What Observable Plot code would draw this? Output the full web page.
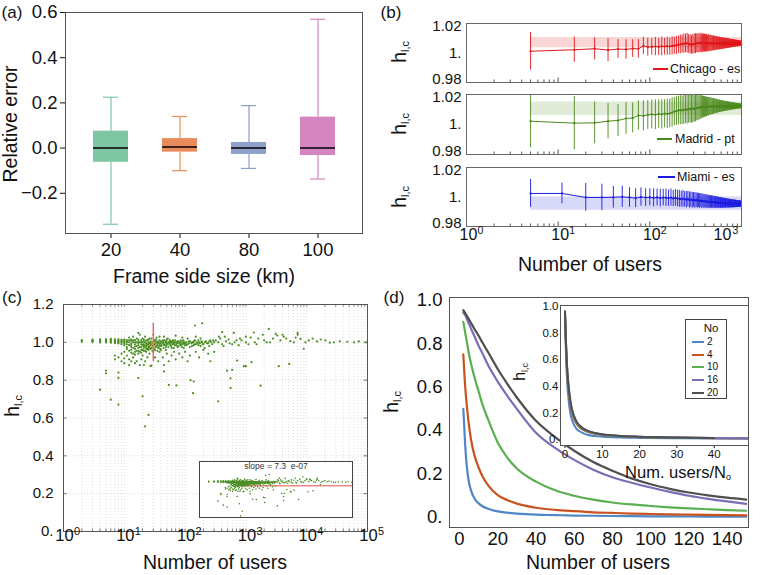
<!DOCTYPE html>
<html><head><meta charset="utf-8">
<script src="https://cdn.jsdelivr.net/npm/d3@7"></script>
<script src="https://cdn.jsdelivr.net/npm/@observablehq/plot@0.6"></script>
<style>
body{margin:0;background:#fff;}
#root{position:relative;width:760px;height:575px;background:#fff;font-family:"Liberation Sans",Arial,Helvetica,sans-serif;color:#111;overflow:hidden;}
.lbl{position:absolute;white-space:nowrap;line-height:1;}
.lbl sub{font-size:0.55em;vertical-align:-0.3em;line-height:0;}
</style></head><body><div id="root"></div><script>
// ---------- DATA ----------
// (a) box plots
const frameSizes = ["20","40","80","100"];
const whiskerLow = [-0.337,-0.100,-0.090,-0.137];
const q1 = [-0.063,-0.018,-0.028,-0.033];
const median = [0.000,0.005,0.000,0.000];
const q3 = [0.075,0.042,0.025,0.137];
const whiskerHigh = [0.225,0.140,0.188,0.570];
const boxColors = ["#7fc6a4","#e98b5c","#8e9fcc","#d586c0"];

// (b) h_lc vs number of users
const usersCM = [5,15,25,35,45,55,65,75,85,95,105,115,125,135,145,155,165,175,185,195,205,215,225,235,245,255,265,275,285,295,305,315,325,335,345,355,365,375,385,395,405,415,425,435,445,455,465,475,485,495,505,515,525,535,545,555,565,575,585,595,605,615,625,635,645,655,665,675,685,695,705,715,725,735,745,755,765,775,785,795,805,815,825,835,845,855,865,875,885,895,905,915,925,935,945,955,965,975,985,995];
const usersMiami = [5,11,20,30,40,50,60,70,80,90,100,110,120,130,140,150,160,170,180,190,200,210,220,230,240,250,260,270,280,290,300,310,320,330,340,350,360,370,380,390,400,410,420,430,440,450,460,470,480,490,500,510,520,530,540,550,560,570,580,590,600,610,620,630,640,650,660,670,680,690,700,710,720,730,740,750,760,770,780,790,800,810,820,830,840,850,860,870,880,890,900,910,920,930,940,950,960,970,980,990];
const chicagoMean = [1.0012,1.0022,1.0029,1.0020,1.0027,1.0024,1.0030,1.0028,1.0048,1.0040,
 1.0042,1.0044,1.0041,1.0045,1.0043,1.0046,1.0044,1.0048,1.0050,1.0052,
 1.0056,1.0058,1.0061,1.0063,1.0065,1.0066,1.0062,1.0058,1.0056,1.0060,
 1.0062,1.0064,1.0066,1.0067,1.0066,1.0068,1.0067,1.0066,1.0068,1.0067,
 1.0066,1.0067,1.0065,1.0066,1.0067,1.0065,1.0066,1.0064,1.0065,1.0066,
 1.0065,1.0064,1.0066,1.0065,1.0064,1.0065,1.0064,1.0065,1.0064,1.0063,
 1.0064,1.0065,1.0064,1.0063,1.0064,1.0065,1.0064,1.0063,1.0064,1.0064,
 1.0065,1.0064,1.0063,1.0064,1.0065,1.0064,1.0063,1.0064,1.0064,1.0065,
 1.0064,1.0063,1.0064,1.0065,1.0064,1.0063,1.0064,1.0064,1.0065,1.0064,
 1.0063,1.0064,1.0064,1.0065,1.0064,1.0064,1.0063,1.0064,1.0064,1.0064];
const chicagoErr = [0.0128,0.0086,0.0075,0.0078,0.0064,0.0066,0.0060,0.0062,0.0058,0.0061,
 0.0056,0.0062,0.0058,0.0064,0.0057,0.0061,0.0059,0.0063,0.0058,0.0062,
 0.0060,0.0064,0.0061,0.0066,0.0062,0.0067,0.0063,0.0066,0.0062,0.0068,
 0.0064,0.0068,0.0063,0.0067,0.0062,0.0066,0.0061,0.0064,0.0060,0.0062,
 0.0058,0.0060,0.0056,0.0058,0.0054,0.0056,0.0052,0.0053,0.0050,0.0051,
 0.0048,0.0049,0.0046,0.0047,0.0044,0.0045,0.0042,0.0043,0.0041,0.0041,
 0.0039,0.0040,0.0038,0.0038,0.0036,0.0036,0.0035,0.0035,0.0033,0.0033,
 0.0032,0.0032,0.0031,0.0030,0.0030,0.0029,0.0028,0.0028,0.0027,0.0027,
 0.0026,0.0026,0.0025,0.0024,0.0024,0.0023,0.0023,0.0022,0.0022,0.0021,
 0.0021,0.0020,0.0020,0.0019,0.0019,0.0018,0.0018,0.0017,0.0017,0.0016];
const madridMean = [1.0022,1.0009,1.0011,1.0022,1.0027,1.0040,1.0044,1.0060,1.0058,1.0064,
 1.0067,1.0065,1.0070,1.0068,1.0072,1.0071,1.0074,1.0080,1.0086,1.0090,
 1.0093,1.0096,1.0094,1.0098,1.0101,1.0099,1.0103,1.0104,1.0102,1.0106,
 1.0104,1.0108,1.0110,1.0112,1.0111,1.0114,1.0116,1.0115,1.0117,1.0116,
 1.0118,1.0117,1.0119,1.0118,1.0120,1.0119,1.0120,1.0121,1.0120,1.0121,
 1.0120,1.0121,1.0122,1.0121,1.0120,1.0121,1.0122,1.0121,1.0120,1.0121,
 1.0122,1.0121,1.0120,1.0121,1.0121,1.0122,1.0121,1.0120,1.0121,1.0122,
 1.0121,1.0120,1.0121,1.0121,1.0122,1.0121,1.0120,1.0121,1.0122,1.0121,
 1.0120,1.0121,1.0121,1.0122,1.0121,1.0120,1.0121,1.0122,1.0121,1.0120,
 1.0121,1.0121,1.0122,1.0121,1.0120,1.0121,1.0121,1.0121,1.0120,1.0121];
const madridErr = [0.0178,0.0178,0.0139,0.0117,0.0106,0.0106,0.0100,0.0098,0.0100,0.0097,
 0.0096,0.0099,0.0095,0.0098,0.0094,0.0097,0.0095,0.0098,0.0094,0.0097,
 0.0095,0.0098,0.0094,0.0097,0.0093,0.0096,0.0093,0.0095,0.0092,0.0094,
 0.0088,0.0090,0.0085,0.0086,0.0080,0.0080,0.0075,0.0075,0.0070,0.0070,
 0.0066,0.0066,0.0062,0.0062,0.0059,0.0058,0.0056,0.0055,0.0053,0.0052,
 0.0050,0.0049,0.0047,0.0046,0.0045,0.0044,0.0042,0.0041,0.0040,0.0039,
 0.0038,0.0037,0.0036,0.0035,0.0034,0.0033,0.0032,0.0032,0.0031,0.0030,
 0.0029,0.0029,0.0028,0.0027,0.0027,0.0026,0.0025,0.0025,0.0024,0.0024,
 0.0023,0.0023,0.0022,0.0022,0.0021,0.0021,0.0020,0.0020,0.0019,0.0019,
 0.0018,0.0018,0.0017,0.0017,0.0017,0.0016,0.0016,0.0015,0.0015,0.0015];
const miamiMean = [1.0024,1.0024,0.9997,0.9997,0.9998,1.0001,0.9997,0.9992,1.0000,0.9996,
 0.9998,0.9994,0.9997,0.9993,0.9996,0.9995,0.9992,0.9996,0.9990,0.9994,
 0.9990,0.9988,0.9985,0.9988,0.9984,0.9982,0.9985,0.9980,0.9982,0.9978,
 0.9980,0.9977,0.9979,0.9975,0.9977,0.9973,0.9975,0.9972,0.9973,0.9970,
 0.9971,0.9969,0.9970,0.9967,0.9968,0.9966,0.9967,0.9965,0.9966,0.9964,
 0.9965,0.9963,0.9964,0.9962,0.9963,0.9961,0.9962,0.9960,0.9961,0.9959,
 0.9960,0.9959,0.9959,0.9958,0.9958,0.9957,0.9958,0.9957,0.9957,0.9956,
 0.9956,0.9956,0.9955,0.9956,0.9955,0.9955,0.9954,0.9955,0.9954,0.9954,
 0.9954,0.9953,0.9954,0.9953,0.9953,0.9954,0.9953,0.9953,0.9952,0.9953,
 0.9953,0.9952,0.9953,0.9952,0.9952,0.9953,0.9952,0.9952,0.9951,0.9952];
const miamiErr = [0.0095,0.0070,0.0094,0.0090,0.0073,0.0072,0.0066,0.0064,0.0062,0.0060,
 0.0058,0.0061,0.0057,0.0060,0.0056,0.0059,0.0055,0.0058,0.0054,0.0057,
 0.0056,0.0058,0.0054,0.0057,0.0053,0.0056,0.0052,0.0055,0.0051,0.0054,
 0.0050,0.0053,0.0049,0.0051,0.0048,0.0050,0.0047,0.0049,0.0046,0.0047,
 0.0045,0.0046,0.0044,0.0045,0.0043,0.0043,0.0042,0.0042,0.0041,0.0041,
 0.0040,0.0040,0.0039,0.0039,0.0038,0.0038,0.0037,0.0037,0.0036,0.0036,
 0.0035,0.0035,0.0034,0.0034,0.0033,0.0033,0.0032,0.0032,0.0031,0.0031,
 0.0030,0.0030,0.0030,0.0029,0.0029,0.0028,0.0028,0.0028,0.0027,0.0027,
 0.0027,0.0026,0.0026,0.0026,0.0025,0.0025,0.0025,0.0024,0.0024,0.0024,
 0.0023,0.0023,0.0023,0.0022,0.0022,0.0022,0.0021,0.0021,0.0021,0.0020];
const bandUsers = [5, 1000];
const chicagoBand = [1.0035, 1.0105];
const madridBand = [1.0060, 1.0150];
const miamiBand = [0.9910, 1.0000];
const yTicksB = [0.98, 1, 1.02];
const yTickLabelsB = ["0.98", "1.", "1.02"];

// (c) scatter: [number of users, [h values]]
const scatterC = [
 [2,[1.003,1.008,1.012]],[3,[1.002,1.006,1.010,1.014]],[4,[1.000,1.004,1.008,1.012,1.016,0.750]],
 [5,[1.000,1.004,1.008,1.012,1.016,0.851,0.836]],[6,[0.998,1.003,1.008,1.013,1.018,0.697]],
 [7,[0.996,1.001,1.006,1.011,1.016,0.930,0.910]],[8,[0.994,1.000,1.005,1.010,1.016,0.920,0.840,0.812,0.671]],
 [9,[0.990,0.998,1.004,1.010,1.015,0.940,0.900]],[10,[0.985,0.995,1.002,1.008,1.014,0.950,0.915,0.890]],
 [11,[1.012,1.000,0.990,0.965,0.930,1.005,0.975]],[12,[1.025,1.010,1.000,0.985,0.955,0.910,0.880]],
 [13,[1.008,0.995,0.975,0.945,0.900,1.015,0.985,0.960]],[14,[1.030,1.010,1.000,0.970,0.940,0.920]],
 [15,[1.012,0.990,0.965,0.935,0.890,1.000,0.978,0.950]],[16,[1.020,1.000,0.980,0.955,0.900]],
 [17,[1.050,1.015,0.995,0.970,0.940,0.812,1.005,0.985,0.955]],[18,[1.040,1.000,0.975,0.950,0.880]],
 [19,[1.010,0.990,0.960,0.910,1.000,0.975,0.945]],[20,[1.020,1.000,0.985,0.960,0.930,0.715]],
 [21,[1.015,0.990,0.970,0.880,1.005,0.980,0.955]],[22,[1.030,1.000,0.980,0.955,0.900,0.556]],
 [23,[0.995,0.975,0.950,1.010,0.985,0.965]],[24,[1.010,0.990,0.965,0.920]],[25,[1.000,0.980,0.960,0.616,1.015,0.990,0.970]],
 [26,[1.020,0.995,0.975,0.940]],[27,[1.005,0.985,0.875,1.000,0.995,0.965]],[28,[1.020,0.990,0.970,0.877]],
 [29,[1.000,0.980,0.955]],[30,[1.040,0.995,0.975,0.950]],[31,[1.010,0.985,0.965]],[32,[1.005,0.990,0.960,0.920]],
 [33,[0.995,0.975,1.015]],[34,[1.025,1.000,0.980]],[35,[1.005,0.985,0.955]],[36,[0.995,0.970,0.900]],
 [37,[1.000,0.975]],[38,[1.030,1.010,0.985,0.950]],[39,[0.995,0.965]],
 [40,[1.000,0.980,0.960]],[41,[1.005,0.985]],[43,[1.010,0.995,0.920]],[44,[1.000,0.970]],[45,[1.030,0.985,0.880,0.846]],
 [46,[1.010,0.990]],[48,[1.000,0.975,0.960]],[49,[0.985,1.005]],[50,[1.015,0.995,0.940]],[52,[1.020,0.990]],
 [53,[1.000,0.975]],[54,[1.000,0.900,0.775]],[56,[0.995,1.012]],
 [57,[1.005,0.985]],[59,[1.000,0.980]],[60,[1.000,0.970,0.930]],[62,[0.990,1.005]],[63,[1.010,0.990]],
 [65,[1.000,0.970]],[66,[0.995,0.950]],[68,[1.010,0.985]],
 [70,[1.035,1.000,0.910]],[72,[0.985,0.772]],[74,[0.995,1.000]],[75,[1.005,0.975]],[78,[1.005,0.980]],[80,[0.995,0.940]],
 [83,[0.990,1.000]],[85,[1.010,0.985]],[88,[1.000,0.975]],[90,[1.025,0.990,0.920]],[93,[0.995,1.010]],[95,[1.000,0.970]],
 [98,[1.000,0.985]],[100,[0.995,0.950]],
 [105,[1.000,0.985]],[110,[1.020,0.990,0.900]],[115,[0.995,1.005]],[120,[1.005,0.975,0.930]],[123,[0.800]],
 [127,[0.995]],[130,[1.000,0.980]],[135,[1.000,0.731]],[139,[0.985,0.793]],[140,[0.990,1.005]],[145,[1.089,1.010]],
 [150,[1.030,0.990,0.950]],[155,[1.000]],[160,[0.995]],[165,[0.985,1.010]],[170,[1.000,0.920]],[175,[0.995]],[180,[1.020,0.980]],
 [185,[1.005]],[190,[1.101,1.000]],[195,[0.990]],[200,[0.990,0.960]],[210,[1.000,0.970]],[220,[1.005]],[230,[0.995]],[240,[0.995,0.940]],
 [250,[1.005,0.980]],[260,[1.010,0.900]],[270,[1.000]],[280,[0.990]],[290,[1.010]],[300,[1.000,0.950]],[320,[1.010]],[350,[1.000,0.688]],
 [360,[1.030]],[380,[1.020]],[407,[1.054,0.990]],[430,[0.980]],[450,[1.030]],[470,[1.005]],
 [490,[0.850]],[520,[1.015]],[540,[0.995]],[558,[0.810,0.759]],[595,[0.990,0.854]],
 [632,[1.050]],[650,[1.000]],[700,[1.010]],[720,[0.904]],[760,[0.985]],[800,[1.020]],
 [850,[1.010]],[925,[0.874]],[1000,[1.030,1.000,0.874]],[1100,[0.990]],[1200,[1.025]],
 [1236,[0.895]],[1350,[1.052]],[1400,[1.000]],[1500,[0.990]],[1600,[1.020]],[1740,[0.771]],
 [1900,[1.040]],[2000,[1.010]],[2200,[1.000]],[2380,[1.071]],[2500,[1.000]],[2800,[1.020]],
 [3100,[1.045]],[3270,[1.036]],[3470,[0.874]],[3700,[1.010]],[4000,[1.040]],[4200,[1.030]],
 [4600,[1.020]],[5150,[0.886]],[5400,[1.006]],[6150,[1.000]],[6600,[1.025]],[7100,[1.050,1.040]],
 [7900,[1.018]],[8930,[0.966]],[9500,[1.000]],[10800,[1.010]],[12500,[1.020]],[14800,[1.005]],
 [17000,[1.015]],[20300,[1.010]],[24000,[0.998]],[28000,[1.000]],[35000,[1.005]],
 [46500,[1.003]],[60000,[1.000]],[72000,[1.005]],[95000,[1.000]]
];
const errCUsers = [30];
const errCMean = [0.99];
const errCLow = [0.898];
const errCHigh = [1.101];
const fitUsers = [25, 100000];
const fitH = [0.952, 0.952];
const slopeText = "slope = 7.3  e-07";

// (d) h_lc vs number of users for several N_o
const noValues = [2,4,10,16,20];
const noColors = ["#4f86c6","#c9531f","#5aaf50","#7a6db6","#4f4f4f"];
const dUsers = [2,3,4,5,6,8,10,12,15,20,25,30,40,50,60,70,80,90,100,110,120,130,140,150];
const h2 = [0.5,0.33,0.22,0.16,0.125,0.085,0.065,0.052,0.04,0.028,0.022,0.018,0.013,0.011,0.009,0.008,0.007,0.006,0.0055,0.005,0.0045,0.004,0.004,0.0035];
const h4 = [0.75,0.6,0.5,0.42,0.36,0.28,0.23,0.19,0.148,0.103,0.08,0.064,0.045,0.035,0.029,0.024,0.021,0.018,0.016,0.014,0.013,0.012,0.011,0.01];
const h10 = [0.9,0.85,0.8,0.75,0.71,0.64,0.58,0.52,0.45,0.345,0.275,0.225,0.165,0.125,0.1,0.082,0.069,0.06,0.053,0.047,0.042,0.038,0.034,0.031];
const h16 = [0.943,0.93,0.91,0.89,0.87,0.83,0.79,0.755,0.70,0.625,0.56,0.50,0.39,0.32,0.265,0.22,0.185,0.16,0.138,0.118,0.1,0.086,0.074,0.063];
const h20 = [0.954,0.94,0.925,0.91,0.895,0.865,0.836,0.805,0.76,0.683,0.615,0.552,0.445,0.37,0.307,0.255,0.215,0.18,0.153,0.132,0.115,0.102,0.091,0.082];
const insetRatio = [0,0.25,0.5,1,1.5,2,3,4,5,6,8,10,15,20,30,40,50];
const i2 = [0.95,0.66,0.48,0.29,0.19,0.14,0.085,0.062,0.048,0.038,0.028,0.023,0.017,0.014,0.011,0.009,0.008];
const i4 = [0.96,0.71,0.54,0.35,0.25,0.19,0.125,0.09,0.072,0.06,0.045,0.036,0.026,0.02,0.015,0.012,0.011];
const i10 = [0.96,0.73,0.56,0.37,0.265,0.2,0.132,0.097,0.076,0.063,0.047,0.038,0.027,0.021,0.016,0.013,0.011];
const i16 = [0.96,0.74,0.57,0.385,0.275,0.21,0.138,0.102,0.08,0.066,0.05,0.04,0.028,0.022,0.017,0.014,0.012];
const i20 = [0.965,0.75,0.58,0.395,0.285,0.215,0.142,0.105,0.083,0.068,0.051,0.041,0.029,0.023,0.017,0.014];

// ---------- HELPERS ----------
const FONT = '"Liberation Sans", Arial, Helvetica, sans-serif';
const root = document.getElementById("root");
function sty(fs){ return {fontFamily: FONT, fontSize: fs+"px", background:"transparent", overflow:"visible", color:"#111"}; }
function put(svg, left, top){ svg.style.position="absolute"; svg.style.left=left+"px"; svg.style.top=top+"px"; svg.style.maxWidth="none"; root.appendChild(svg); }
function label(html, x, y, fs, opts={}){
  const d=document.createElement("div"); d.className="lbl"; d.innerHTML=html;
  d.style.left=x+"px"; d.style.top=y+"px"; d.style.fontSize=fs+"px";
  const tx = opts.anchor==="start" ? "0" : "-50%";
  d.style.transform = `translate(${tx},-50%)` + (opts.rotate ? " rotate(-90deg)" : "");
  if (opts.color) d.style.color=opts.color;
  root.appendChild(d); return d;
}
function hline(x0,x1,y,color,w){ const d=document.createElement("div"); d.style.position="absolute"; d.style.left=x0+"px"; d.style.top=(y-w/2)+"px"; d.style.width=(x1-x0)+"px"; d.style.height=w+"px"; d.style.background=color; root.appendChild(d); }
const HLC = 'h<sub>l,c</sub>';

// ---------- PANEL (a) ----------
const boxRows = frameSizes.map((s,i)=>({size:s,min:whiskerLow[i],q1:q1[i],med:median[i],q3:q3[i],max:whiskerHigh[i],color:boxColors[i]}));
put(Plot.plot({
  width:380, height:290, marginLeft:65, marginRight:18, marginTop:12, marginBottom:57,
  style: sty(18.5),
  x:{type:"band", domain:frameSizes, paddingInner:0.493, paddingOuter:0.3986, label:null, tickSize:5, tickPadding:4},
  y:{domain:[-0.378,0.6], ticks:[-0.2,0,0.2,0.4,0.6], tickFormat:d3.format(".1f"), label:null, tickSize:5, tickPadding:3},
  color:{type:"identity"},
  marks:[
    Plot.ruleX(boxRows,{x:"size", y1:"q3", y2:"max", stroke:"color", strokeWidth:1.2}),
    Plot.ruleX(boxRows,{x:"size", y1:"min", y2:"q1", stroke:"color", strokeWidth:1.2}),
    Plot.tickY(boxRows,{x:"size", y:"max", stroke:"color", strokeWidth:1.2, insetLeft:10, insetRight:10}),
    Plot.tickY(boxRows,{x:"size", y:"min", stroke:"color", strokeWidth:1.2, insetLeft:10, insetRight:10}),
    Plot.barY(boxRows,{x:"size", y1:"q1", y2:"q3", fill:"color"}),
    Plot.tickY(boxRows,{x:"size", y:"med", stroke:"#000", strokeWidth:1.5}),
    Plot.frame({stroke:"#555"})
  ]
}), 0, 0);
label("(a)", 12, 12, 17);
label("Relative error", 11, 124, 19.5, {rotate:true});
label("Frame side size (km)", 204, 277, 19.5);

// ---------- PANEL (b) ----------
const majorB = [1,10,100,1000];
const minorB = [];
for (let k=0;k<3;k++) for (let m=2;m<10;m++) minorB.push(m*Math.pow(10,k));
function panelB(ns, means, errs, band, color, shade, frameTop, frameH, isBottom){
  const rows = ns.map((n,i)=>({n, m:means[i], e:errs[i]}));
  const mt=12, mb = isBottom ? 50 : 12;
  const tickDy = [-3, 0, 3];
  const marks = [
    Plot.rect([0],{x1:()=>bandUsers[0], x2:()=>bandUsers[1], y1:()=>band[0], y2:()=>band[1], fill:shade}),
    Plot.ruleX(rows,{x:"n", y1:d=>d.m-d.e, y2:d=>d.m+d.e, stroke:color, strokeWidth:1, strokeOpacity:0.9, clip:true}),
    Plot.line(rows,{x:"n", y:"m", stroke:color, strokeWidth:1}),
    Plot.dot(rows,{x:"n", y:"m", r:1.1, fill:color}),
    Plot.tickX(minorB,{x:d=>d, stroke:"#555", insetTop:frameH-2.5}),
    Plot.tickX(majorB,{x:d=>d, stroke:"#555", insetTop:frameH-4.5}),
    Plot.frame({stroke:"#666"}),
    ...yTicksB.map((t,i)=>Plot.text([t],{y:d=>d, text:()=>yTickLabelsB[i], frameAnchor:"left", dx:-5, dy:tickDy[i], textAnchor:"end", fontSize:15}))
  ];
  if (isBottom){
    const first = majorB.slice(0,3), last = majorB.slice(3);
    marks.push(
      Plot.text(first,{x:d=>d, text:()=>"10", frameAnchor:"bottom", dy:13.5, dx:2, fontSize:16}),
      Plot.text(first,{x:d=>d, text:d=>String(Math.round(Math.log10(d))), frameAnchor:"bottom", dy:7.5, dx:11, fontSize:10.5, textAnchor:"start"}),
      Plot.text(last,{x:d=>d, text:()=>"10", frameAnchor:"bottom", dy:13.5, dx:-19, fontSize:16}),
      Plot.text(last,{x:d=>d, text:d=>String(Math.round(Math.log10(d))), frameAnchor:"bottom", dy:7.5, dx:-9, fontSize:10.5, textAnchor:"start"})
    );
  }
  put(Plot.plot({
    width:380, height:frameH+mt+mb, marginLeft:86, marginRight:19, marginTop:mt, marginBottom:mb,
    style: sty(15),
    x:{type:"log", domain:[1,1000], axis:null},
    y:{domain:[0.98,1.02], axis:null},
    marks
  }), 380, frameTop-mt);
}
panelB(usersCM, chicagoMean, chicagoErr, chicagoBand, "#e0161b", "#f9d6d6", 23, 59, false);
panelB(usersCM, madridMean, madridErr, madridBand, "#4a8a1c", "#e2ebd8", 94, 60, false);
panelB(usersMiami, miamiMean, miamiErr, miamiBand, "#1c1ce0", "#d8d8f9", 167, 59, true);
label("(b)", 391, 12, 17);
label(HLC, 399, 52, 20, {rotate:true});
label(HLC, 399, 124, 20, {rotate:true});
label(HLC, 399, 197, 20, {rotate:true});
hline(653,668,69,"#e0161b",1.3); label("Chicago - es", 670, 69, 12.5, {anchor:"start"});
hline(657,672,139,"#4a8a1c",1.3); label("Madrid - pt", 675, 139, 12.5, {anchor:"start"});
hline(658,675,177,"#1c1ce0",1.3); label("Miami - es", 677, 177, 12.5, {anchor:"start"});
label("Number of users", 590, 265, 19.5);

// ---------- PANEL (c) ----------
const cPoints = scatterC.flatMap(([n, hs]) => hs.map(h => ({n, h})));
const errRows = errCUsers.map((n,i)=>({n, m:errCMean[i], lo:errCLow[i], hi:errCHigh[i]}));
const fitRows = fitUsers.map((n,i)=>({n, h:fitH[i]}));
const majorC = [1,10,100,1000,10000,100000];
const gridC = [];
for (let k=0;k<5;k++) for (let m=1;m<10;m++) gridC.push(m*Math.pow(10,k));
gridC.push(100000);
const yTicksC = [0,0.2,0.4,0.6,0.8,1.0,1.2];
const WC = 304, HC = 227;
const green = "#4b8e22";
put(Plot.plot({
  width:380, height:285, marginLeft:63, marginRight:13, marginTop:14, marginBottom:44,
  style: sty(15),
  x:{type:"log", domain:[1,1e5], axis:null},
  y:{domain:[0,1.2], ticks:yTicksC, tickFormat:d=>d===0?"0.":d.toFixed(1), tickSize:0, tickPadding:10, label:null},
  marks:[
    Plot.gridX(gridC,{stroke:"#cfcfcf", strokeDasharray:"1,2", strokeOpacity:0.7}),
    Plot.gridY([0.2,0.4,0.6,0.8,1.0],{stroke:"#cfcfcf", strokeDasharray:"1,2", strokeOpacity:0.7}),
    Plot.dot(cPoints,{x:"n", y:"h", r:1.1, fill:green}),
    Plot.ruleX(errRows,{x:"n", y1:"lo", y2:"hi", stroke:"#ea6a62", strokeWidth:1.5}),
    Plot.dot(errRows,{x:"n", y:"m", r:2.2, stroke:"#e88a3c", fill:"none", strokeWidth:1}),
    Plot.tickX(gridC,{x:d=>d, stroke:"#777", insetTop:HC-2.5}),
    Plot.tickX(gridC,{x:d=>d, stroke:"#777", insetBottom:HC-2.5}),
    Plot.tickY(yTicksC,{y:d=>d, stroke:"#777", insetRight:WC-3.5}),
    Plot.tickY(yTicksC,{y:d=>d, stroke:"#777", insetLeft:WC-3.5}),
    Plot.frame({stroke:"#555"}),
    Plot.text(majorC,{x:d=>d, text:()=>"10", frameAnchor:"bottom", dy:9.5, dx:1, fontSize:16.5}),
    Plot.text(majorC,{x:d=>d, text:d=>String(Math.round(Math.log10(d))), frameAnchor:"bottom", dy:3.5, dx:10.5, fontSize:11, textAnchor:"start"})
  ]
}), 0, 290);
// inset of (c)
put(Plot.plot({
  width:153, height:56, marginLeft:0, marginRight:0, marginTop:0, marginBottom:0,
  style: sty(8.5),
  x:{type:"log", domain:[1,1e5], axis:null},
  y:{domain:[0.534,1.273], axis:null},
  marks:[
    Plot.frame({fill:"#fff", stroke:"none"}),
    Plot.line(fitRows,{x:"n", y:"h", stroke:"#e8524a", strokeWidth:1}),
    Plot.dot(cPoints,{x:"n", y:"h", r:0.8, fill:green}),
    Plot.text([slopeText],{text:d=>d, frameAnchor:"top", dy:1.5, fontSize:8.5, fill:"#333"}),
    Plot.frame({stroke:"#444"})
  ]
}), 199, 461);
label("(c)", 12, 297, 17);
label(HLC, 12, 406, 20, {rotate:true});
label("Number of users", 215, 563, 19.5);

// ---------- PANEL (d) ----------
const dRows = [];
[h2,h4,h10,h16,h20].forEach((arr,j)=>arr.forEach((h,i)=>dRows.push({N:dUsers[i], h, No:noValues[j], color:noColors[j]})));
put(Plot.plot({
  width:380, height:285, marginLeft:69, marginRight:12, marginTop:7, marginBottom:48,
  style: sty(18.5),
  x:{domain:[-5.23,151.2], ticks:[0,20,40,60,80,100,120,140], tickSize:0, tickPadding:4, label:null},
  y:{domain:[-0.046,1.012], ticks:[0,0.2,0.4,0.6,0.8,1.0], tickFormat:d=>d===0?"0.":d.toFixed(1), tickSize:0, tickPadding:7, label:null},
  color:{type:"identity"},
  marks:[
    Plot.line(dRows,{x:"N", y:"h", z:"No", stroke:"color", strokeWidth:2.2, curve:"monotone-x"}),
    Plot.frame({stroke:"#555"})
  ]
}), 380, 290);
// inset of (d)
const iRows = [];
[i2,i4,i10,i16,i20].forEach((arr,j)=>arr.forEach((h,i)=>iRows.push({r:insetRatio[i], h, No:noValues[j], color:noColors[j]})));
put(Plot.plot({
  width:223, height:165, marginLeft:30, marginRight:5, marginTop:5, marginBottom:20,
  style: sty(11.5),
  x:{domain:[-1.2,49.2], ticks:[0,10,20,30,40], tickSize:3, tickPadding:1, label:null},
  y:{domain:[-0.043,1.0075], ticks:[0,0.2,0.4,0.6,0.8,1.0], tickFormat:d=>d===0?"0.":d.toFixed(1), tickSize:0, tickPadding:2, label:null},
  color:{type:"identity"},
  marks:[
    Plot.frame({fill:"#fff", stroke:"none"}),
    Plot.line(iRows,{x:"r", y:"h", z:"No", stroke:"color", strokeWidth:2, curve:"monotone-x", clip:true}),
    Plot.frame({stroke:"#555"})
  ]
}), 530, 300);
// legend of inset (d)
const lg = document.createElement("div");
lg.style.cssText = "position:absolute;left:685px;top:319px;width:42px;height:80px;border:1px solid #444;background:#fff;box-sizing:border-box;";
root.appendChild(lg);
label("No", 711, 329, 11.5);
const legY = [341.7,354.7,367.3,380,392.7];
noValues.forEach((v,j)=>{ hline(692,704,legY[j],noColors[j],2); label(String(v), 707, legY[j], 10, {anchor:"start"}); });
label("(d)", 394, 297, 17);
label(HLC, 391, 402, 20, {rotate:true});
label(HLC, 520, 372, 16, {rotate:true});
label("Num. users/N<sub>o</sub>", 678, 472, 16.5);
label("Number of users", 598, 563, 19.5);
</script></body></html>
